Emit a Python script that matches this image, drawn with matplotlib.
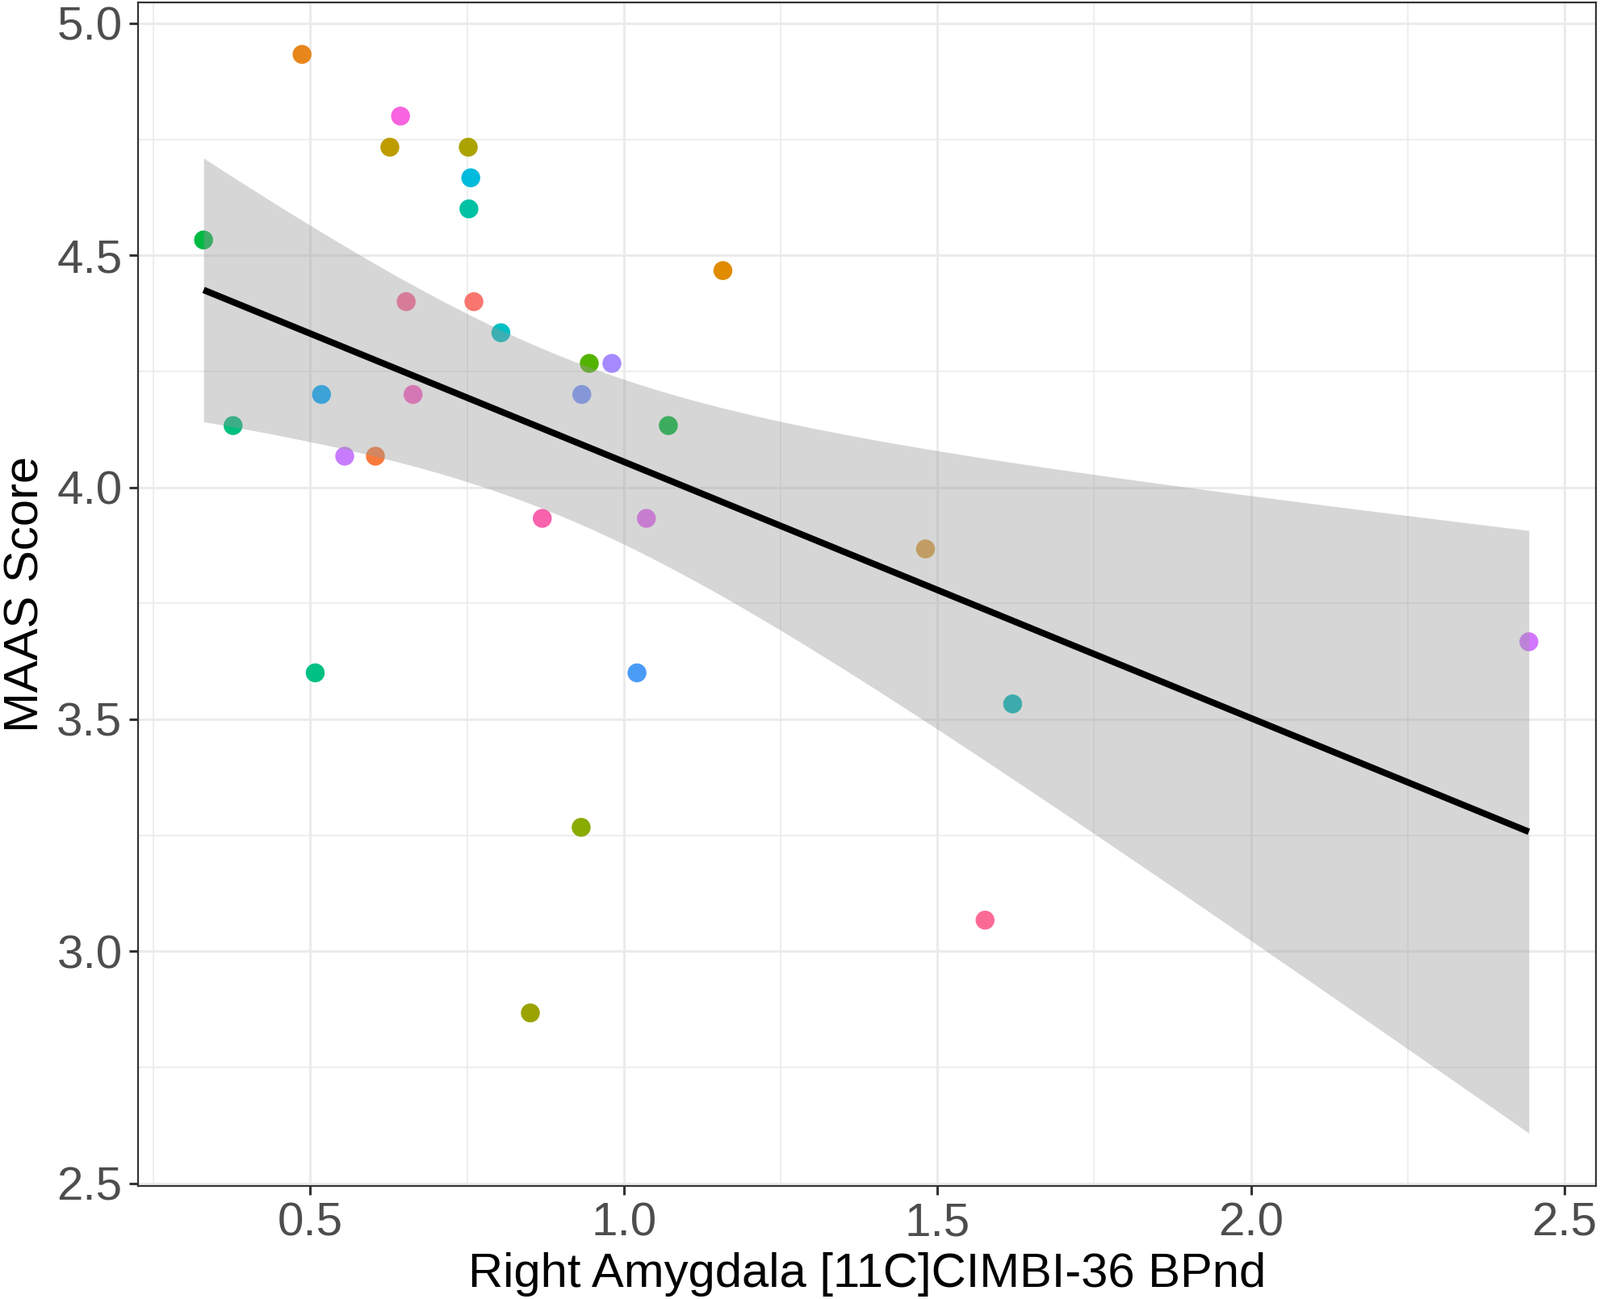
import numpy as np
import matplotlib
matplotlib.use("Agg")
import matplotlib.pyplot as plt
from matplotlib.ticker import MultipleLocator

plt.rcParams['font.family'] = ['Liberation Sans', 'DejaVu Sans']

# right amygdala BPnd per subject and MAAS score
bpnd = [0.487, 0.644, 0.627, 0.752, 0.756, 0.753, 0.330, 1.158, 0.653, 0.761,
        0.804, 0.945, 0.981, 0.518, 0.664, 0.933, 0.377, 1.071, 0.555, 0.604,
        0.870, 1.036, 1.481, 2.443, 0.508, 1.021, 1.620, 0.932, 1.576, 0.851]
maas = [4.933, 4.800, 4.733, 4.733, 4.667, 4.600, 4.533, 4.467, 4.400, 4.400,
        4.333, 4.267, 4.267, 4.200, 4.200, 4.200, 4.133, 4.133, 4.067, 4.067,
        3.933, 3.933, 3.867, 3.667, 3.600, 3.600, 3.533, 3.267, 3.067, 2.867]
subject_colors = ['#E7861B', '#F863DF', '#BE9C00', '#ABA300', '#00BBDC', '#00C1A3',
                  '#00BA42', '#E08B00', '#FF6A98', '#F8766D', '#00BFC4', '#53B400',
                  '#A58AFF', '#00A9FF', '#FF61C9', '#7997FF', '#00BF7D', '#00BA38',
                  '#C77CFF', '#FA7A3C', '#F962AD', '#E76BF3', '#DDA040', '#D376FF',
                  '#00C083', '#4A9BF5', '#00B8B8', '#8AAB00', '#FB6A95', '#9AA300']

x = np.array(bpnd)
y = np.array(maas)

# linear fit + 95% confidence band (like geom_smooth(method="lm"))
n = len(x)
slope, intercept = np.polyfit(x, y, 1)
resid = y - (intercept + slope * x)
s = np.sqrt(np.sum(resid ** 2) / (n - 2))
xs = np.linspace(x.min(), x.max(), 80)
ys = intercept + slope * xs
se = s * np.sqrt(1 / n + (xs - x.mean()) ** 2 / np.sum((x - x.mean()) ** 2))
tcrit = 2.048  # t(0.975, df=28)

fig = plt.figure(figsize=(19.83, 16.09), dpi=100)
ax = fig.add_axes([171 / 1983, 1 - 1469 / 1609, (1977 - 171) / 1983, (1469 - 3) / 1609])

ax.scatter(x, y, s=285, c=subject_colors, linewidths=0, zorder=3)
ax.fill_between(xs, ys - tcrit * se, ys + tcrit * se, color='#999999', alpha=0.4,
                linewidth=0, zorder=4)
ax.plot(xs, ys, color='black', linewidth=5.8, zorder=5, solid_capstyle='butt')

ax.set_xlim(0.2255, 2.55)
ax.set_ylim(2.494, 5.045)
ax.xaxis.set_major_locator(MultipleLocator(0.5))
ax.xaxis.set_minor_locator(MultipleLocator(0.25))
ax.yaxis.set_major_locator(MultipleLocator(0.5))
ax.yaxis.set_minor_locator(MultipleLocator(0.25))
ax.xaxis.set_major_formatter(matplotlib.ticker.FormatStrFormatter('%.1f'))
ax.yaxis.set_major_formatter(matplotlib.ticker.FormatStrFormatter('%.1f'))

ax.grid(True, which='major', color='#EBEBEB', linewidth=2.2, zorder=0)
ax.grid(True, which='minor', color='#EBEBEB', linewidth=1.2, zorder=0)
ax.set_axisbelow(True)

for sp in ax.spines.values():
    sp.set_color('#333333')
    sp.set_linewidth(1.6)

ax.tick_params(which='major', length=8, width=2.2, color='#333333',
               labelsize=42, labelcolor='#4D4D4D', pad=6)
ax.tick_params(which='minor', length=0)

ax.set_xlabel('Right Amygdala [11C]CIMBI-36 BPnd', fontsize=43, color='black', labelpad=6)
ax.set_ylabel('MAAS Score', fontsize=43, color='black', labelpad=8)

fig.savefig('out.png', dpi=100, facecolor='white')
